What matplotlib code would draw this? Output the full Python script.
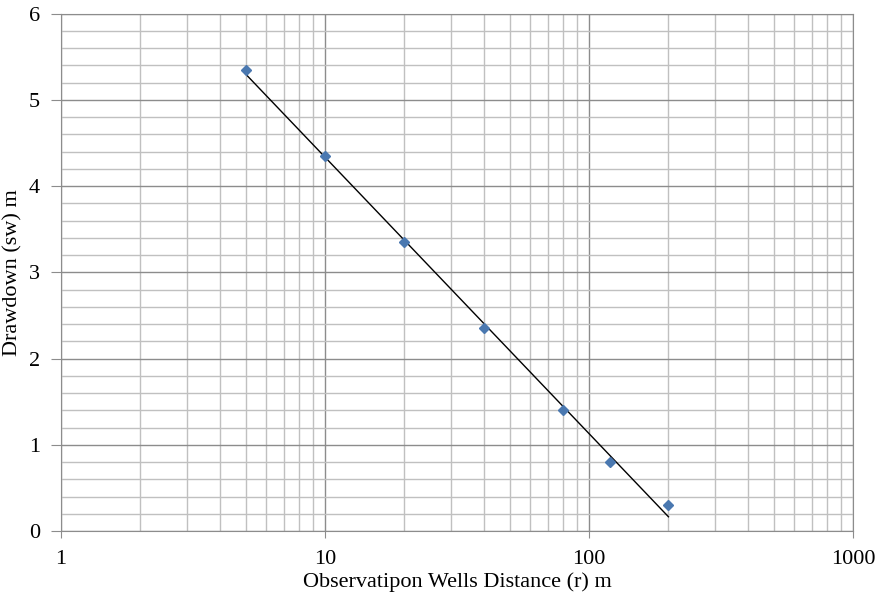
import numpy as np
import matplotlib
matplotlib.use('Agg')
import matplotlib.pyplot as plt
from matplotlib.ticker import LogLocator, MultipleLocator, FixedLocator, FixedFormatter

# Observation well data
distance = [5, 10, 20, 40, 80, 120, 200]
drawdown = [5.35, 4.35, 3.35, 2.35, 1.4, 0.8, 0.3]

x_ticks = [1, 10, 100, 1000]
x_tick_labels = ['1', '10', '100', '1000']

plt.rcParams['font.family'] = ['Liberation Serif', 'DejaVu Serif']

fig = plt.figure(figsize=(8.8, 5.96), dpi=100)
ax = fig.add_axes([0.0693, 0.109, 0.9, 0.868])

# straight-line fit on semi-log scale
coef = np.polyfit(np.log10(distance), drawdown, 1)
fit_x = np.array([distance[0], distance[-1]])
fit_y = np.polyval(coef, np.log10(fit_x))

ax.plot(fit_x, fit_y, color='black', linewidth=1, zorder=3)
ax.plot(distance, drawdown, linestyle='none', marker='D', markersize=5.5,
        color='#4a78b0', zorder=4)

ax.set_xscale('log')
ax.set_xlim(1, 1000)
ax.set_ylim(0, 6)

ax.xaxis.set_major_locator(FixedLocator(x_ticks))
ax.xaxis.set_major_formatter(FixedFormatter(x_tick_labels))
ax.xaxis.set_minor_locator(LogLocator(base=10, subs=range(2, 10)))
ax.xaxis.set_minor_formatter(plt.NullFormatter())
ax.yaxis.set_major_locator(MultipleLocator(1))
ax.yaxis.set_minor_locator(MultipleLocator(0.2))

ax.grid(which='major', color='#8c8c8c', linewidth=1.0)
ax.grid(which='minor', color='#c0c0c0', linewidth=1.0)
ax.set_axisbelow(True)

for side in ['left', 'bottom', 'top', 'right']:
    ax.spines[side].set_color('#8c8c8c')

ax.tick_params(which='major', color='#8c8c8c', labelsize=16)
ax.tick_params(which='minor', length=0)
ax.tick_params(axis='y', which='major', length=7, pad=8)
ax.tick_params(axis='x', which='major', length=5, pad=9)

ax.set_xlabel('Observatipon Wells Distance (r) m', fontsize=16, labelpad=2)
ax.set_ylabel('Drawdown (sw) m', fontsize=16, labelpad=5)

fig.savefig('out.png', dpi=100)
